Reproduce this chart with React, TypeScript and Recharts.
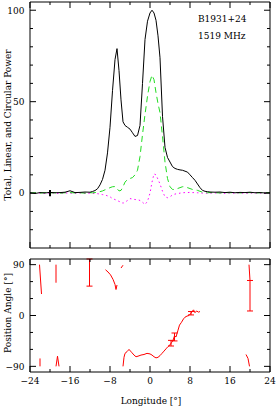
import { ComposedChart, Line, Scatter, ErrorBar, XAxis, YAxis } from 'recharts';

// pulse profile (longitude in degrees)
const profileLon = [
  -24, -23, -22, -21, -20, -19, -18, -17, -16, -15, -14, -13, -12,
  -11.5, -11, -10.5, -10, -9.5, -9, -8.5, -8, -7.5, -7,
  -6.6, -6.2, -5.8, -5.4, -5, -4.5, -4, -3.5, -3, -2.5,
  -2, -1.5, -1, -0.5, 0, 0.4, 0.8, 1.2, 1.6, 2,
  2.5, 3, 3.5, 4, 4.5, 5, 5.5, 6, 6.5, 7,
  7.5, 8, 8.5, 9, 9.5, 10, 10.5, 11, 11.5, 12,
  13, 14, 15, 16, 17, 18, 19, 20, 21, 22, 23, 24,
];
const totalPower = [
  0.2, -0.2, 0.3, 0.1, 0.4, 0.2, 0.3, 0.5, 1.3, 0.3, 0.4, 0.6, 0.5,
  0.9, 1.4, 2.4, 4.5, 7.5, 12.5, 22, 36, 56, 73,
  79, 67, 51, 39, 37, 36, 35, 33, 31, 31.5,
  37, 60, 84, 94, 98.5, 100, 98.5, 94.5, 86, 74,
  42, 25, 19.5, 17, 14.5, 13.5, 13, 12.7, 12.5, 12,
  11.5, 10, 8.5, 7, 5, 3, 1.5, 1, 0.8, 0.6,
  0.5, 0.6, 0.3, 0.5, 0.2, 0.4, 0.3, 0.5, 0.2, 0.3, 0.1, 0.2,
];
const linearPower = [
  0.1, 0.2, 0, 0.3, 0.1, 0.2, 0, 0.2, 0.3, 0.1, 0.2, 0, 0.2,
  0.2, 0.3, 0.5, 0.8, 1.2, 1.8, 2.3, 3, 3.5, 3.6,
  2.5, 1.2, 1.5, 3.5, 6, 7.5, 8, 8.5, 10, 12.5,
  20, 32, 43, 53, 61, 64.5, 62, 55, 49, 44,
  31, 17, 8, 3.5, 2, 2, 2.5, 3, 3.5, 3.6,
  3, 2.5, 2, 1.8, 1.5, 1, 0.5, 0.3, 0.2, 0.3,
  0.2, 0.1, 0.3, 0.2, 0.4, 0.1, 0.2, 0.3, 0.1, 0.2, 0.3, 0.2,
];
const circularPower = [
  0, -0.2, 0.1, -0.1, 0.1, 0, -0.2, 0.1, 0, -0.1, 0.1, -0.2, 0,
  -0.1, -0.2, -0.3, -0.5, -0.8, -1, -1.5, -2, -3, -3.5,
  -4, -4.5, -5, -5.5, -5, -4, -3, -3.2, -3.5, -3.6,
  -4, -5, -6.2, -4.5, 0, 6, 10.5, 10, 7.5, 5,
  1, -2, -2.5, -2, -1, -0.5, -0.3, 0, 0.2, 0.3,
  0.3, 0.4, 0.3, 0.3, 0.2, 0.1, 0, 0.1, -0.1, 0,
  0.1, 0, -0.1, 0.1, 0, 0.1, -0.1, 0, 0.1, 0, -0.1, 0,
];

// off-pulse rms marker
const rmsLon = [-20];
const rmsValue = [0];
const rmsErr = [1.7];

// position angle, null marks a break in the curve
const paLon = [
  -22.1, -21.7, -21.8,
  -22.0, -22.0, -20,
  -18.8, -18.8, -18.8,
  -18.8, -18.5, -18.2, -15,
  -8.9, -8.4, -7.9, -7.4, -7.0, -6.8, -6.6, -6.2,
  -5.8, -5.4, -5.4,
  -5.4, -5.2, -5.0, -4.6, -4.2, -3.9, -3.6, -3.2, -2.8, -2.4,
  -1.8, -1.2, -0.6, 0, 0.4, 0.8, 1.2, 1.6, 2.0, 2.4,
  2.8, 3.2, 3.6, 4.0, 4.3, 4.6, 4.9, 5.2, 5.6, 5.9,
  6.3, 6.7, 7.0, 7.4, 7.8, 8.1, 8.4, 8.7, 9.0, 9.3, 9.7, 10.0, 15,
  19.8, 20.0, 19.5,
  19.2, 19.6, 19.9,
];
const paAngle = [
  90, 38, null,
  -76, -90, null,
  90, 58, null,
  -90, -72, -90, null,
  81, 77, 72, 64, 55, 46, 54, null,
  84, 89, null,
  -90, -74, -67, -64, -60, -63, -66, -70, -73, -72,
  -70, -69, -67, -68, -70, -73, -75, -74, -71, -67,
  -63, -59, -55, -52, -48, -44, -36, -38, -26, -17,
  -12, -6, -3, -1, 0, 3, 7, 10, 5, 8, 6, 7, null,
  90, 62, null,
  -69, -76, -90,
];
const paErrLon = [-12.1, 4.2, 4.9, 8.2, 20.0];
const paErrAngle = [76, -49, -38, 4, 35];
const paErrSize = [24, 5, 7, 3, 27];

const lonTicks = [-24, -20, -16, -12, -8, -4, 0, 4, 8, 12, 16, 20, 24];
const lonMajor = [-24, -16, -8, 0, 8, 16, 24];
const powerTicks = [-20, -10, 0, 10, 20, 30, 40, 50, 60, 70, 80, 90, 100];
const powerMajor = [0, 50, 100];
const paTicks = [-90, -60, -30, 0, 30, 60, 90];
const paMajor = [-90, 0, 90];

const FONT = 'DejaVu Serif';
const GAP = 4;

const fmt = (v: number) => (v < 0 ? '\u2212' + Math.abs(v) : String(v));

type Side = 'bottom' | 'top' | 'left' | 'right';

function tickRenderer(side: Side, majors: number[], showLabels: boolean) {
  return function TickMark(props: any) {
    const { x, y, payload } = props;
    const v = payload.value as number;
    const major = majors.includes(v);
    const len = major ? 6 : 3;
    const label = showLabels && major ? fmt(v) : null;
    const txt = { fontFamily: FONT, fontSize: 9, fill: '#000' };
    if (side === 'bottom') {
      const ay = y - GAP;
      return (
        <g>
          <line x1={x} y1={ay} x2={x} y2={ay - len} stroke="#000" />
          {label && (
            <text x={x} y={ay + 12} textAnchor="middle" {...txt}>
              {label}
            </text>
          )}
        </g>
      );
    }
    if (side === 'top') {
      return <line x1={x} y1={y} x2={x} y2={y + len} stroke="#000" />;
    }
    if (side === 'left') {
      const ax = x + GAP;
      return (
        <g>
          <line x1={ax} y1={y} x2={ax + len} y2={y} stroke="#000" />
          {label && (
            <text x={ax - 5.5} y={y + 3.3} textAnchor="end" {...txt}>
              {label}
            </text>
          )}
        </g>
      );
    }
    return <line x1={x} y1={y} x2={x - len} y2={y} stroke="#000" />;
  };
}

const noShape = () => <g />;

export default function App() {
  const profile = profileLon.map((lon, i) => ({
    lon,
    total: totalPower[i],
    linear: linearPower[i],
    circular: circularPower[i],
  }));
  const rms = rmsLon.map((lon, i) => ({ lon, val: rmsValue[i], err: rmsErr[i] }));
  const pa = paLon.map((lon, i) => ({ lon, pa: paAngle[i] }));
  const paErr = paErrLon.map((lon, i) => ({ lon, pa: paErrAngle[i], err: paErrSize[i] }));

  const axisLine = { stroke: '#000' };

  return (
    <div style={{ position: 'absolute', left: 0, top: 0, width: 278, height: 407, background: '#fff' }}>
      <ComposedChart width={278} height={250} margin={{ top: 1, right: 7, bottom: 1, left: 0 }}>
        <XAxis
          dataKey="lon"
          type="number"
          domain={[-24, 24]}
          ticks={lonTicks}
          interval={0}
          allowDataOverflow
          height={1}
          tickSize={0}
          tickMargin={GAP}
          tickLine={false}
          axisLine={axisLine}
          tick={tickRenderer('bottom', lonMajor, false)}
        />
        <XAxis
          xAxisId="top"
          orientation="top"
          dataKey="lon"
          type="number"
          domain={[-24, 24]}
          ticks={lonTicks}
          interval={0}
          allowDataOverflow
          height={1}
          tickSize={0}
          tickMargin={0}
          tickLine={false}
          axisLine={axisLine}
          tick={tickRenderer('top', lonMajor, false)}
        />
        <YAxis
          type="number"
          domain={[-30, 104.5]}
          ticks={powerTicks}
          interval={0}
          allowDataOverflow
          width={30}
          tickSize={0}
          tickMargin={GAP}
          tickLine={false}
          axisLine={axisLine}
          tick={tickRenderer('left', powerMajor, true)}
        />
        <YAxis
          yAxisId="right"
          orientation="right"
          type="number"
          domain={[-30, 104.5]}
          ticks={powerTicks}
          interval={0}
          allowDataOverflow
          width={1}
          tickSize={0}
          tickMargin={0}
          tickLine={false}
          axisLine={axisLine}
          tick={tickRenderer('right', powerMajor, false)}
        />
        <Line
          data={profile}
          dataKey="circular"
          stroke="#ff00ff"
          strokeWidth={1}
          strokeDasharray="1.5 3"
          dot={false}
          isAnimationActive={false}
        />
        <Line
          data={profile}
          dataKey="linear"
          stroke="#22dd22"
          strokeWidth={1}
          strokeDasharray="6 4"
          dot={false}
          isAnimationActive={false}
        />
        <Line
          data={profile}
          dataKey="total"
          stroke="#000"
          strokeWidth={1}
          dot={false}
          isAnimationActive={false}
        />
        <Scatter data={rms} dataKey="val" shape={noShape} isAnimationActive={false}>
          <ErrorBar dataKey="err" direction="y" width={0} stroke="#000" strokeWidth={2} />
        </Scatter>
      </ComposedChart>

      <ComposedChart width={278} height={157} margin={{ top: 8, right: 7, bottom: 2, left: 0 }}>
        <XAxis
          dataKey="lon"
          type="number"
          domain={[-24, 24]}
          ticks={lonTicks}
          interval={0}
          allowDataOverflow
          height={33}
          tickSize={0}
          tickMargin={GAP}
          tickLine={false}
          axisLine={axisLine}
          tick={tickRenderer('bottom', lonMajor, true)}
        />
        <XAxis
          xAxisId="top"
          orientation="top"
          dataKey="lon"
          type="number"
          domain={[-24, 24]}
          ticks={lonTicks}
          interval={0}
          allowDataOverflow
          height={1}
          tickSize={0}
          tickMargin={0}
          tickLine={false}
          axisLine={axisLine}
          tick={tickRenderer('top', lonMajor, false)}
        />
        <YAxis
          type="number"
          domain={[-100, 100]}
          ticks={paTicks}
          interval={0}
          allowDataOverflow
          width={30}
          tickSize={0}
          tickMargin={GAP}
          tickLine={false}
          axisLine={axisLine}
          tick={tickRenderer('left', paMajor, true)}
        />
        <YAxis
          yAxisId="right"
          orientation="right"
          type="number"
          domain={[-100, 100]}
          ticks={paTicks}
          interval={0}
          allowDataOverflow
          width={1}
          tickSize={0}
          tickMargin={0}
          tickLine={false}
          axisLine={axisLine}
          tick={tickRenderer('right', paMajor, false)}
        />
        <Line
          data={pa}
          dataKey="pa"
          stroke="#ff0000"
          strokeWidth={1}
          dot={false}
          connectNulls={false}
          isAnimationActive={false}
        />
        <Scatter data={paErr} dataKey="pa" shape={noShape} isAnimationActive={false}>
          <ErrorBar dataKey="err" direction="y" width={3} stroke="#ff0000" strokeWidth={1} />
        </Scatter>
      </ComposedChart>

      <svg
        width={278}
        height={407}
        style={{ position: 'absolute', left: 0, top: 0, pointerEvents: 'none' }}
        fontFamily={FONT}
        fontSize={9}
      >
        <text x={11} y={125} textAnchor="middle" transform="rotate(-90 11 125)">
          Total, Linear, and Circular Power
        </text>
        <text x={11} y={313} textAnchor="middle" transform="rotate(-90 11 313)">
          Position Angle [°]
        </text>
        <text x={151} y={404} textAnchor="middle">
          Longitude [°]
        </text>
        <text x={198} y={21.5}>B1931+24</text>
        <text x={198} y={39}>1519 MHz</text>
      </svg>
    </div>
  );
}
